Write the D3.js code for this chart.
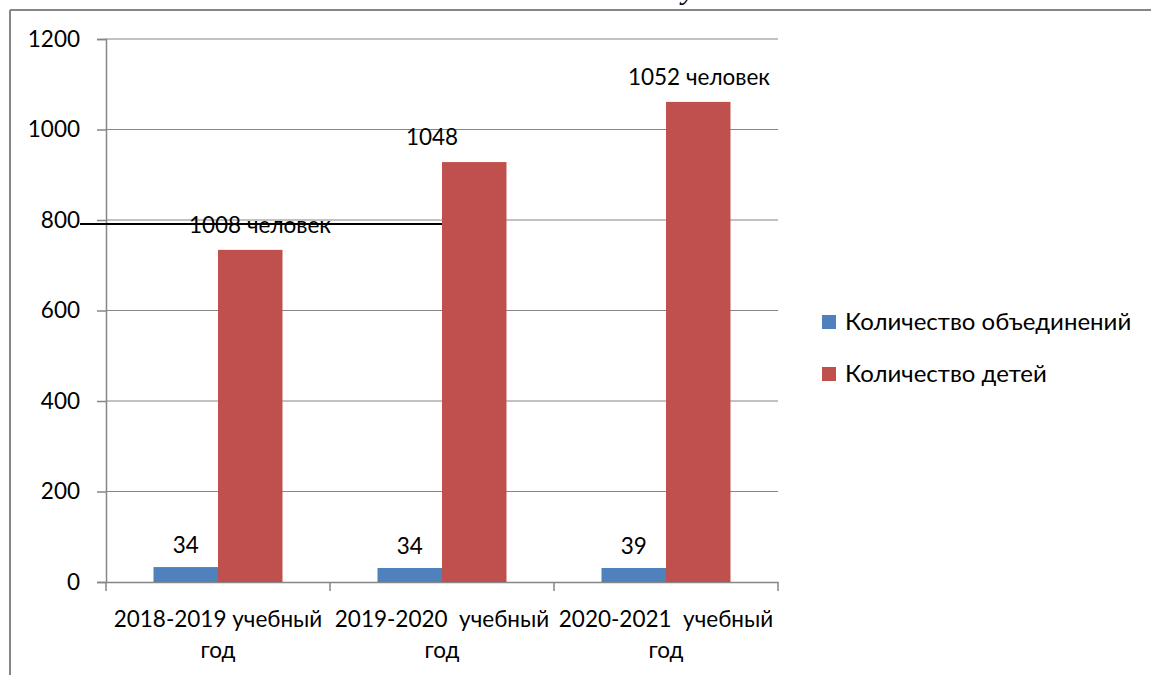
<!DOCTYPE html>
<html><head><meta charset="utf-8">
<script src="https://cdn.jsdelivr.net/npm/d3@7"></script>
<style>html,body{margin:0;padding:0;background:#fff;overflow:hidden}text{font-family:Lato,"Open Sans",sans-serif}</style>
</head><body><svg id="c" width="1151" height="675"></svg>
<script>
const categories = ["2018-2019 учебный|год", "2019-2020  учебный|год", "2020-2021  учебный|год"];
const seriesNames = ["Количество объединений", "Количество детей"];
const unions = [33, 31, 31];
const children = [734, 928, 1061];
const unionLabels = ["34", "34", "39"];
const childLabels = ["1008 человек", "1048", "1052 человек"];
const yTicks = [0, 200, 400, 600, 800, 1000, 1200];
const colors = ["#4F81BD", "#C0504D"];

(function(){
const svg = d3.select("#c");
const W = 1151, H = 675;
const pLeft = 106, pRight = 778, pTop = 39, pBottom = 582;
const FS = 22.5;

// outer frame
svg.append("line").attr("x1",10).attr("x2",10).attr("y1",10).attr("y2",H).attr("stroke","#868686").attr("stroke-width",2);
svg.append("line").attr("x1",10).attr("x2",W).attr("y1",10).attr("y2",10).attr("stroke","#868686").attr("stroke-width",2);
// fragment of text above the chart
svg.append("text").attr("x",682).attr("y",-1).attr("font-size",30).attr("fill","#000")
  .style("font-family","'Liberation Serif'").style("font-style","italic").text("у");

const x = d3.scaleBand().domain(d3.range(categories.length)).range([pLeft, pRight]).paddingInner(0).paddingOuter(0);
const y = d3.scaleLinear().domain([0, 1200]).range([pBottom, pTop]);
const barW = 64.5;

// gridlines
svg.append("g").selectAll("line").data(yTicks.filter(d=>d>0)).join("line")
  .attr("x1", pLeft).attr("x2", pRight).attr("y1", d=>y(d)).attr("y2", d=>y(d))
  .attr("stroke","#868686").attr("stroke-width",1.2);

// y axis
const ya = svg.append("g").attr("transform",`translate(${pLeft},0)`)
  .call(d3.axisLeft(y).tickValues(yTicks).tickFormat(d3.format("d")).tickSize(9).tickPadding(17));
ya.select(".domain").attr("stroke","#868686").attr("stroke-width",1.5);
ya.selectAll(".tick line").attr("stroke","#868686").attr("stroke-width",1.5);
ya.selectAll(".tick text").attr("font-size",FS).attr("fill","#000").style("font-family","Lato");

// x axis
const xa = svg.append("g").attr("transform",`translate(0,${pBottom})`)
  .call(d3.axisBottom(x).tickValues([]).tickSize(0));
xa.select(".domain").attr("stroke","#868686").attr("stroke-width",1.5);
const bounds = [0,1,2,3].map(i => pLeft + i * x.bandwidth());
svg.append("g").selectAll("line").data(bounds).join("line")
  .attr("x1",d=>d).attr("x2",d=>d).attr("y1",pBottom).attr("y2",pBottom+9)
  .attr("stroke","#868686").attr("stroke-width",1.5);

// black line annotation
svg.append("line").attr("x1",80).attr("x2",x(1)+x.bandwidth()/2).attr("y1",y(800)+4).attr("y2",y(800)+4)
  .attr("stroke","#000").attr("stroke-width",2);

// bars
const g = svg.append("g");
const cx = i => x(i) + x.bandwidth()/2;
g.selectAll(".b1").data(unions).join("rect")
  .attr("x",(d,i)=>cx(i)-barW).attr("width",barW)
  .attr("y",d=>y(d)).attr("height",d=>y(0)-y(d)).attr("fill",colors[0]);
g.selectAll(".b2").data(children).join("rect")
  .attr("x",(d,i)=>cx(i)).attr("width",barW)
  .attr("y",d=>y(d)).attr("height",d=>y(0)-y(d)).attr("fill",colors[1]);

// labels
svg.append("g").selectAll("text").data(unionLabels).join("text")
  .attr("x",(d,i)=>cx(i)-barW/2).attr("y",(d,i)=>y(unions[i])-14)
  .attr("text-anchor","middle").attr("font-size",FS).attr("fill","#000").text(d=>d);
const childLabelPos = [[260,233],[432,145],[699,85]];
svg.append("g").selectAll("text").data(childLabels).join("text")
  .attr("x",(d,i)=>childLabelPos[i][0]).attr("y",(d,i)=>childLabelPos[i][1])
  .attr("text-anchor","middle").attr("font-size",FS).attr("fill","#000").text(d=>d);

// category labels
categories.forEach((c,i)=>{
  const parts = c.split("|");
  parts.forEach((p,j)=>{
    svg.append("text").attr("x",cx(i)).attr("y",627 + j*31).attr("text-anchor","middle")
      .attr("font-size",FS).attr("fill","#000").style("white-space","pre").text(p);
  });
});

// legend
seriesNames.forEach((s,i)=>{
  const ly = 315 + i*52;
  svg.append("rect").attr("x",822).attr("y",ly).attr("width",14).attr("height",14).attr("fill",colors[i]);
  svg.append("text").attr("x",845).attr("y",ly+15).attr("font-size",24).attr("fill","#000").text(s);
});
})();
</script></body></html>
